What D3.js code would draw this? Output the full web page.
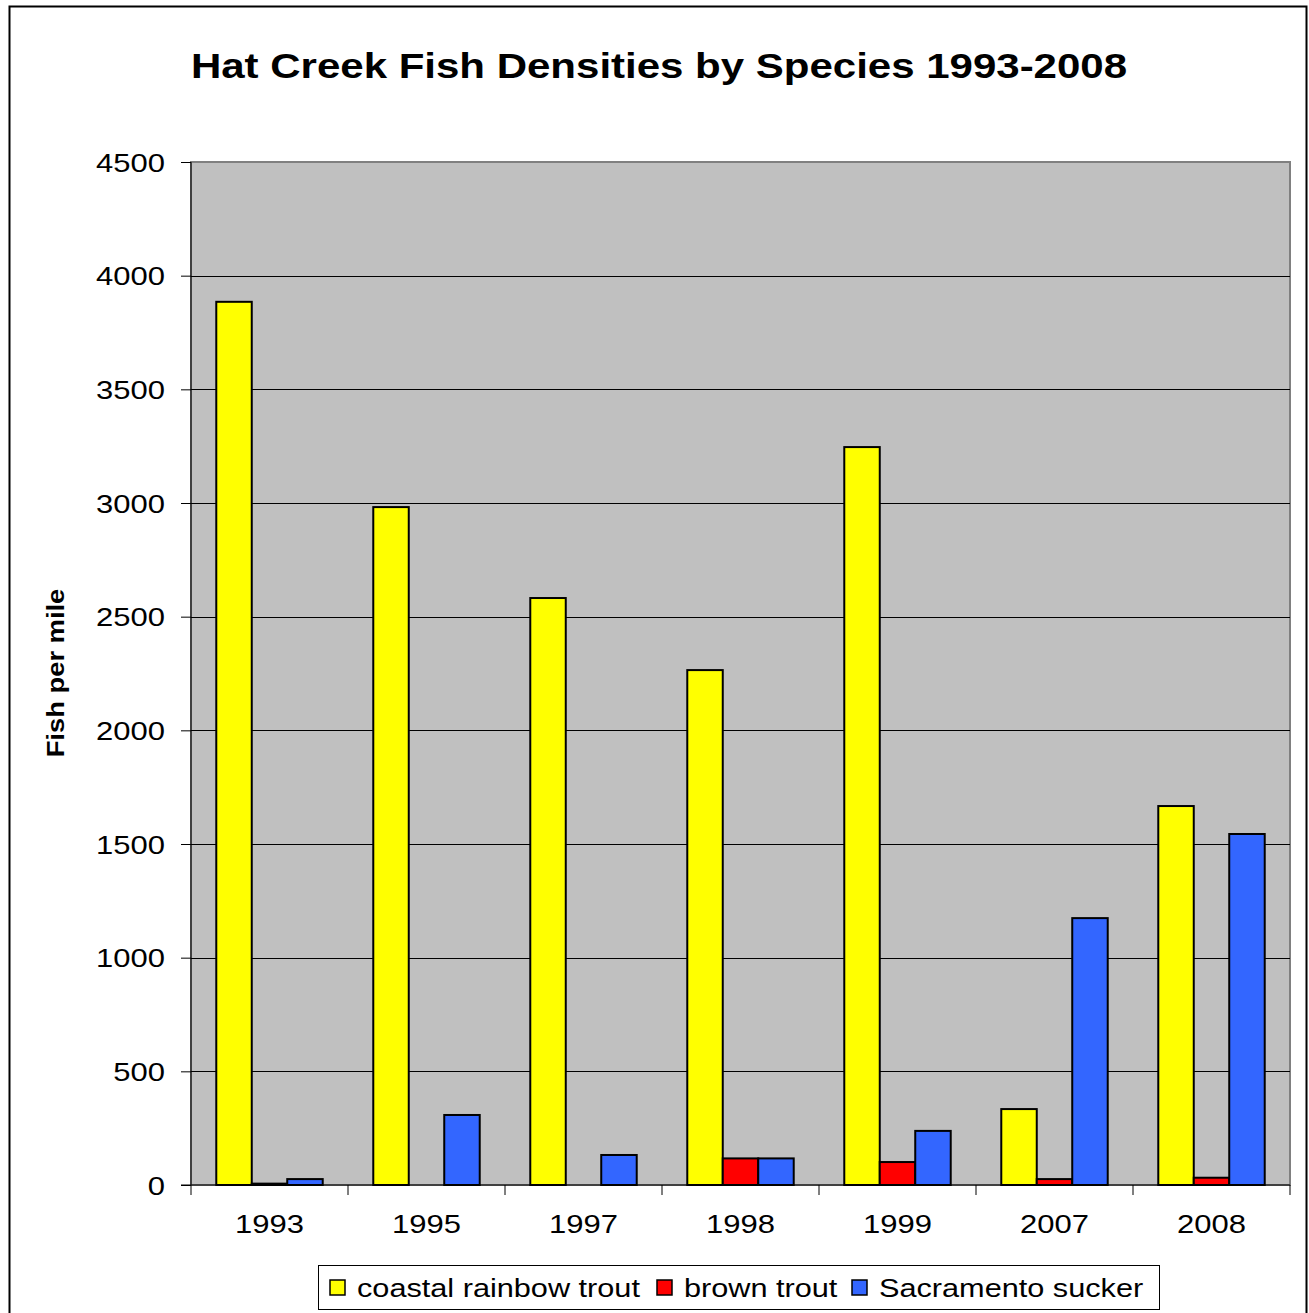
<!DOCTYPE html>
<html><head><meta charset="utf-8">
<script src="https://cdn.jsdelivr.net/npm/d3@7"></script>
<style>body{margin:0;background:#fff;font-family:"Liberation Sans",Arial,sans-serif}</style>
</head><body>
<svg id="c" width="1309" height="1313"></svg>
<script>
const years = ["1993","1995","1997","1998","1999","2007","2008"];
const seriesNames = ["coastal rainbow trout","brown trout","Sacramento sucker"];
const rainbow = [3885, 2982, 2582, 2265, 3246, 334, 1667];
const brown = [6, 0, 0, 117, 101, 26, 32];
const sucker = [26, 308, 132, 117, 238, 1174, 1544];
const yTicks = [0,500,1000,1500,2000,2500,3000,3500,4000,4500];
const colors = ["#ffff00","#ff0000","#3366ff"];
const seriesVals = [rainbow, brown, sucker];

const svg = d3.select("#c");
const L=191, R=1290, T=162, B=1185;
function stretch(sel, s){
  sel.each(function(){
    const t=d3.select(this);
    const x=+(t.attr("x")||0);
    t.attr("transform",`translate(${x},0) scale(${s},1) translate(${-x},0)`);
  });
}
svg.append("rect").attr("x",9.5).attr("y",6.5).attr("width",1297).attr("height",1320).attr("fill","#fff").attr("stroke","#000").attr("stroke-width",2);

const x = d3.scaleBand().domain(years).range([L,R]).padding(0);
const y = d3.scaleLinear().domain([0,4500]).range([B,T]);
const bw = x.bandwidth()*0.226;
const off = (x.bandwidth()-3*bw)/2;

svg.append("rect").attr("x",L).attr("y",T).attr("width",R-L).attr("height",B-T).attr("fill","#c0c0c0").attr("stroke","#808080").attr("stroke-width",2);

svg.append("g").selectAll("line").data(yTicks.filter(d=>d>0&&d<4500)).join("line")
 .attr("x1",L).attr("x2",R).attr("y1",d=>Math.round(y(d))+0.5).attr("y2",d=>Math.round(y(d))+0.5).attr("stroke","#000").attr("stroke-width",1);

seriesVals.forEach((vals,si)=>{
  svg.append("g").selectAll("rect").data(years.map((yr,i)=>({yr,v:vals[i]}))).join("rect")
   .attr("x",d=>x(d.yr)+off+si*bw).attr("width",bw)
   .attr("y",d=>y(d.v)).attr("height",d=>B-y(d.v))
   .attr("fill",colors[si]).attr("stroke","#000").attr("stroke-width",2)
   .attr("display",d=>d.v>0?null:"none");
});

const ya = svg.append("g").attr("transform",`translate(${L},0)`).call(d3.axisLeft(y).tickValues(yTicks).tickSize(10).tickPadding(16).tickFormat(d3.format("d")));
ya.select(".domain").attr("stroke","#000").attr("d",`M0,${T}V${B}`);
ya.selectAll(".tick line").attr("stroke","#000");
ya.selectAll("text").attr("font-size",25).attr("font-family","Liberation Sans, Arial").attr("fill","#000").attr("dy","0.36em");
stretch(ya.selectAll("text"),1.24);

const xa = svg.append("g").attr("transform",`translate(0,${B})`).call(d3.axisBottom(x).tickSize(0).tickPadding(0));
xa.select(".domain").attr("stroke","#000").attr("d",`M${L-10},0H${R}`);
xa.selectAll("text").attr("font-size",25).attr("font-family","Liberation Sans, Arial").attr("fill","#000").attr("dy",0).attr("y",48);
stretch(xa.selectAll("text"),1.24);
svg.append("g").selectAll("line").data(d3.range(years.length+1)).join("line")
 .attr("x1",i=>L+i*x.step()).attr("x2",i=>L+i*x.step()).attr("y1",B).attr("y2",B+10).attr("stroke","#000");

const title = svg.append("text").attr("x",659).attr("y",78).attr("text-anchor","middle").attr("font-size",36).attr("font-weight","bold").attr("font-family","Liberation Sans, Arial").text("Hat Creek Fish Densities by Species 1993-2008");
stretch(title,1.167);
svg.append("g").attr("transform","translate(64,673) rotate(-90)").append("text").attr("text-anchor","middle").attr("font-size",24).attr("font-weight","bold").attr("font-family","Liberation Sans, Arial").text("Fish per mile").call(s=>stretch(s,1.14));

const lg = svg.append("g");
lg.append("rect").attr("x",318.5).attr("y",1265.5).attr("width",841).attr("height",44).attr("fill","#fff").attr("stroke","#000").attr("stroke-width",1);
const lx=[330,657,852];
seriesNames.forEach((n,i)=>{
  lg.append("rect").attr("x",lx[i]).attr("y",1280).attr("width",15).attr("height",15).attr("fill",colors[i]).attr("stroke","#000").attr("stroke-width",1.5);
  lg.append("text").attr("x",lx[i]+27).attr("y",1297).attr("font-size",26).attr("font-family","Liberation Sans, Arial").text(n).call(s=>stretch(s,1.18));
});
</script>
</body></html>
